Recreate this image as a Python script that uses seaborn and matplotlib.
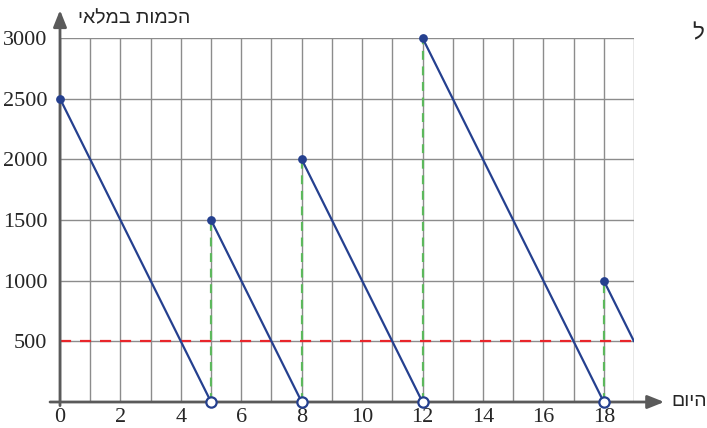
import numpy as np
import pandas as pd
import matplotlib
matplotlib.use("Agg")
import matplotlib.pyplot as plt
import seaborn as sns

# sawtooth stock levels: each restock peak drops to the next restock day
restock_days = [0, 5, 8, 12, 18]
restock_levels = [2500, 1500, 2000, 3000, 1000]
end_days = [5, 8, 12, 18, 19]
end_levels = [0, 0, 0, 0, 500]
empty_days = [5, 8, 12, 18]
min_level = 500

x_label = "היום"
y_label = "הכמות במלאי"

rows = []
for i in range(len(restock_days)):
    rows.append({"seg": i, "day": restock_days[i], "stock": restock_levels[i]})
    rows.append({"seg": i, "day": end_days[i], "stock": end_levels[i]})
df = pd.DataFrame(rows)
tops = pd.DataFrame({"day": restock_days, "stock": restock_levels})
empties = pd.DataFrame({"day": empty_days, "stock": [0] * len(empty_days)})

sns.set_style("white")
plt.rcParams['font.family'] = ['Liberation Serif', 'DejaVu Sans']

fig = plt.figure(figsize=(7.07, 4.28), dpi=100)
ax = fig.add_axes([60 / 707, 26 / 428, 574 / 707, 364 / 428])

blue = "#25408f"
green = "#5cb85c"
red = "#e8262b"
grid_c = "#8c8c8c"
axis_c = "#5a5a5a"

ax.set_xlim(0, 19)
ax.set_ylim(0, 3000)
ax.set_xticks(range(0, 19, 2))
ax.set_xticks(range(0, 20), minor=True)
ax.set_yticks(range(500, 3001, 500))
ax.grid(True, which="both", axis="x", color=grid_c, lw=1)
ax.grid(True, which="major", axis="y", color=grid_c, lw=1)
for s in ax.spines.values():
    s.set_visible(False)
ax.tick_params(axis="x", which="both", direction="inout", length=8, width=1.5,
               color=axis_c, labelsize=16, pad=0)
ax.tick_params(axis="y", direction="out", length=8, width=1.5, color=axis_c,
               labelsize=16, pad=1)

# reference lines
ax.axhline(min_level, color=red, ls=(0, (5, 4)), lw=1.6, zorder=3)
ax.vlines(empty_days, 0, [restock_levels[restock_days.index(d)] for d in empty_days],
          colors=green, linestyles=(0, (4, 3)), lw=1.6, zorder=3)

sns.lineplot(data=df, x="day", y="stock", units="seg", estimator=None,
             color=blue, lw=1.6, ax=ax, zorder=4, legend=False)
sns.scatterplot(data=tops, x="day", y="stock", color=blue, s=40, ax=ax,
                zorder=6, clip_on=False, linewidth=0)
sns.scatterplot(data=empties, x="day", y="stock", facecolor="white",
                edgecolor=blue, linewidth=1.6, s=55, ax=ax, zorder=6, clip_on=False)
ax.set_xlabel("")
ax.set_ylabel("")

# axes with arrows
ax.annotate("", xy=(20.0, 0), xytext=(-0.33, 0), xycoords="data",
            arrowprops=dict(arrowstyle="-|>,head_length=1.0,head_width=0.4",
                            color=axis_c, lw=2, shrinkA=0, shrinkB=0),
            annotation_clip=False, zorder=5)
ax.annotate("", xy=(0, 3230), xytext=(0, -30), xycoords="data",
            arrowprops=dict(arrowstyle="-|>,head_length=1.0,head_width=0.4",
                            color=axis_c, lw=2, shrinkA=0, shrinkB=0),
            annotation_clip=False, zorder=5)

heb = ['Liberation Sans', 'DejaVu Sans']
fig.text(671 / 707, 1 - 401 / 428, x_label[::-1], family=heb,
         fontsize=14, ha="left", va="center")
fig.text(78 / 707, 1 - 19 / 428, y_label[::-1], family=heb,
         fontsize=14, ha="left", va="center")
fig.text(692 / 707, 1 - 34 / 428, "ל", family=heb,
         fontsize=16, ha="left", va="center")

fig.savefig("out.png", dpi=100)
